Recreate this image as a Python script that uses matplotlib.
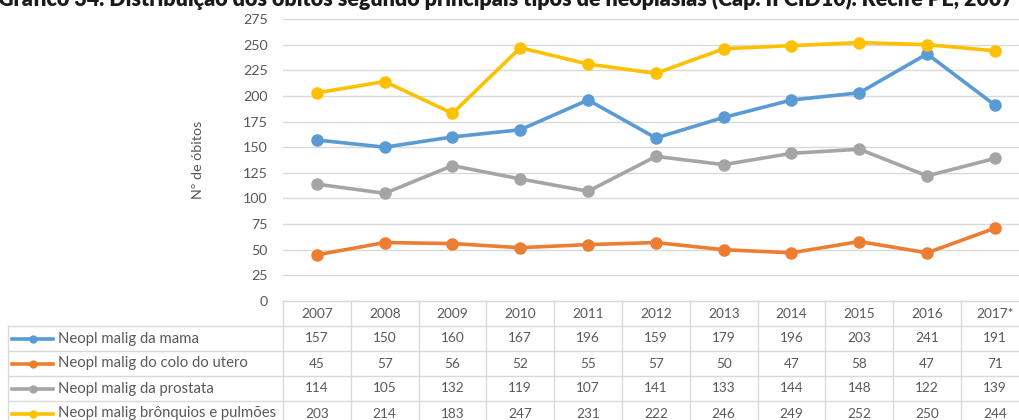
import matplotlib
matplotlib.use("Agg")
import matplotlib.pyplot as plt
from matplotlib.lines import Line2D
from matplotlib.transforms import blended_transform_factory

plt.rcParams['font.family'] = ['Lato', 'DejaVu Sans']

years = ["2007", "2008", "2009", "2010", "2011", "2012", "2013", "2014", "2015", "2016", "2017*"]
mama = [157, 150, 160, 167, 196, 159, 179, 196, 203, 241, 191]
colo_utero = [45, 57, 56, 52, 55, 57, 50, 47, 58, 47, 71]
prostata = [114, 105, 132, 119, 107, 141, 133, 144, 148, 122, 139]
bronquios = [203, 214, 183, 247, 231, 222, 246, 249, 252, 250, 244]

names = ["Neopl malig da mama", "Neopl malig do colo do utero",
         "Neopl malig da prostata", "Neopl malig brônquios e pulmões"]
series = [mama, colo_utero, prostata, bronquios]
colors = ["#5B9BD5", "#ED7D31", "#A5A5A5", "#FFC000"]

W, H = 1020, 420
txt = "#595959"
grid = "#D9D9D9"

fig = plt.figure(figsize=(W / 100, H / 100), dpi=100)

def fx(px):
    return px / W

def fy(py):
    return 1 - py / H

# plot area in pixels: columns of ~67.8 px starting at x=283
left, right, top, bottom = 283, 283 + 11 * 67.8, 19, 301
ax = fig.add_axes([fx(left), fy(bottom), fx(right - left), (bottom - top) / H])
ax.set_xlim(-0.5, 10.5)
ax.set_ylim(0, 275)
ax.set_yticks(range(0, 276, 25))
ax.set_xticks([])
for s in ax.spines.values():
    s.set_visible(False)
ax.grid(axis='y', color=grid, lw=1)
ax.set_axisbelow(True)
ax.tick_params(axis='y', length=0, labelsize=10.3, labelcolor=txt, pad=11)
ax.set_ylabel("Nº de óbitos", color=txt, fontsize=10.3, labelpad=28)

x = list(range(len(years)))
for vals, c in zip(series, colors):
    ax.plot(x, vals, color=c, lw=2.6, marker='o', ms=8, clip_on=False)

# data table under the chart
tr = blended_transform_factory(ax.transData, fig.transFigure)
row_h = 25
rows_y = [bottom + i * row_h for i in range(6)]
for k in range(len(years) + 1):
    ax.add_line(Line2D([k - 0.5, k - 0.5], [fy(bottom), fy(H + 5)], transform=tr,
                       color=grid, lw=1, clip_on=False))
fig.add_artist(Line2D([fx(8), fx(8)], [fy(rows_y[1]), fy(H + 5)], color=grid, lw=1))
fig.add_artist(Line2D([fx(left), 1.02], [fy(bottom), fy(bottom)], color=grid, lw=1))
for ry in rows_y[1:5]:
    fig.add_artist(Line2D([fx(8), 1.02], [fy(ry), fy(ry)], color=grid, lw=1))

for i, yr in enumerate(years):
    ax.text(i, fy(bottom + row_h / 2), yr, transform=tr, fontsize=9.8, color=txt,
            ha='center', va='center', clip_on=False)

for r, (name, vals, c) in enumerate(zip(names, series, colors)):
    cy = fy(rows_y[r + 1] + row_h / 2)
    fig.add_artist(Line2D([fx(12), fx(53)], [cy, cy], color=c, lw=2.6))
    fig.add_artist(Line2D([fx(33)], [cy], color=c, marker='o', ms=5, lw=0))
    fig.text(fx(58), cy, name, fontsize=10.7, color=txt, ha='left', va='center')
    for i, v in enumerate(vals):
        ax.text(i, cy, str(v), transform=tr, fontsize=9.8, color=txt,
                ha='center', va='center', clip_on=False)

fig.text(fx(-2), fy(6), "Gráfico 34. Distribuição dos óbitos segundo principais tipos de neoplasias "
         "(Cap. II CID10). Recife PE, 2007-2017*", fontsize=15.5, fontweight='heavy',
         color="#1a1a1a", ha='left', va='baseline')

fig.savefig("out.png", dpi=100)
